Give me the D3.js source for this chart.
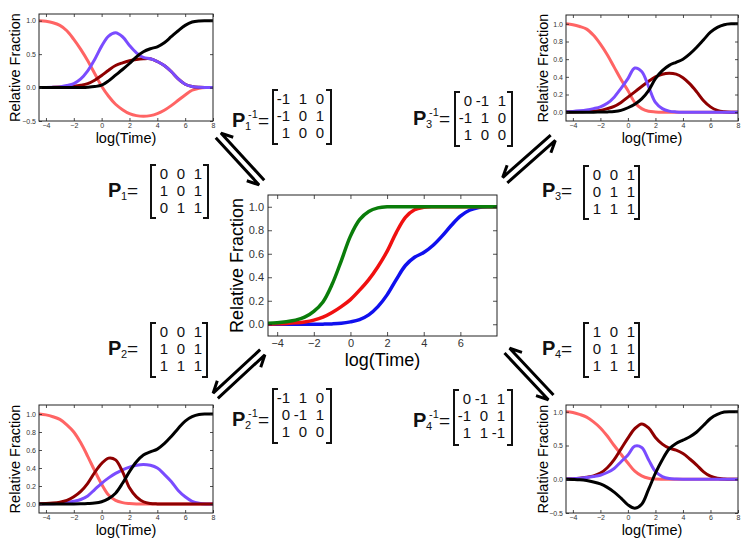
<!DOCTYPE html>
<html><head><meta charset="utf-8">
<script src="https://cdn.jsdelivr.net/npm/d3@7"></script>
<style>
body{margin:0;background:#fff;}
svg{display:block;font-family:"Liberation Sans",Arial,Helvetica,sans-serif;}
</style></head><body>
<svg id="fig" width="747" height="545"></svg>
<script>
// ---------- DATA ----------
const xGrid = [-4.5,-4,-3.5,-3,-2.5,-2,-1.5,-1,-0.5,0,0.5,1,1.5,2,2.5,3,3.5,4,4.5,5,5.5,6,6.5,7,7.5,8];
const xTicksSmall = [-4,-2,0,2,4,6,8];
const xTicksCenter = [-4,-2,0,2,4,6];
const yTicksWide = [-0.5,0,0.5,1.0];
const yTicksUnit = [0,0.2,0.4,0.6,0.8,1.0];

// center panel
const centerGreen = [0.008,0.013,0.022,0.035,0.06,0.11,0.19,0.34,0.54,0.75,0.89,0.96,0.99,1,1,1,1,1,1,1,1,1,1,1,1,1];
const centerRed   = [0.002,0.004,0.007,0.012,0.02,0.035,0.06,0.10,0.15,0.21,0.29,0.38,0.49,0.62,0.78,0.91,0.975,0.995,1,1,1,1,1,1,1,1];
const centerBlue  = [0,0,0,0,0,0,0.001,0.003,0.008,0.02,0.04,0.08,0.15,0.25,0.38,0.50,0.57,0.61,0.67,0.75,0.84,0.92,0.97,0.993,1,1];

// top-left panel (P1)
const tlSalmon = [1.0,0.99,0.97,0.93,0.85,0.72,0.57,0.40,0.21,0.02,-0.13,-0.25,-0.33,-0.39,-0.42,-0.43,-0.42,-0.39,-0.34,-0.27,-0.19,-0.11,-0.04,-0.01,0,0];
const tlDark   = [0,0,0.003,0.007,0.012,0.02,0.035,0.06,0.11,0.18,0.26,0.33,0.37,0.40,0.42,0.43,0.43,0.39,0.33,0.24,0.13,0.05,0.015,0.003,0,0];
const tlPurple = [0,0.002,0.005,0.01,0.03,0.06,0.13,0.25,0.42,0.62,0.77,0.82,0.76,0.63,0.52,0.45,0.43,0.39,0.33,0.24,0.13,0.05,0.015,0.003,0,0];
const tlBlack  = [0,0,0,0,0,0,0.002,0.006,0.015,0.035,0.10,0.185,0.27,0.36,0.46,0.535,0.58,0.61,0.67,0.76,0.85,0.93,0.98,0.997,1,1];

// top-right panel (P3)
const trSalmon = [1.0,0.99,0.97,0.94,0.87,0.77,0.65,0.51,0.37,0.245,0.11,0.04,0.01,0.003,0,0,0,0,0,0,0,0,0,0,0,0];
const trPurple = [0.005,0.008,0.015,0.025,0.04,0.06,0.10,0.17,0.27,0.38,0.50,0.46,0.29,0.11,0.04,0.012,0.003,0,0,0,0,0,0,0,0,0];
const trDark   = [0.001,0.002,0.004,0.008,0.013,0.02,0.04,0.065,0.11,0.17,0.23,0.29,0.35,0.40,0.43,0.44,0.43,0.39,0.32,0.23,0.13,0.06,0.02,0.005,0,0];
const trBlack  = [0,0,0,0,0,0.001,0.003,0.007,0.02,0.05,0.09,0.15,0.245,0.38,0.47,0.53,0.565,0.60,0.66,0.735,0.82,0.905,0.96,0.99,1,1];

// bottom-left panel (P2)
const blSalmon = [1.0,0.99,0.97,0.94,0.88,0.80,0.68,0.53,0.37,0.22,0.10,0.04,0.015,0.005,0,0,0,0,0,0,0,0,0,0,0,0];
const blDark   = [0.003,0.005,0.01,0.02,0.04,0.08,0.14,0.23,0.35,0.45,0.51,0.49,0.36,0.18,0.08,0.025,0.006,0.001,0,0,0,0,0,0,0,0];
const blPurple = [0.001,0.002,0.004,0.008,0.015,0.03,0.05,0.09,0.16,0.23,0.29,0.34,0.38,0.41,0.43,0.44,0.43,0.40,0.33,0.25,0.15,0.08,0.03,0.008,0,0];
const blBlack  = [0,0,0,0,0,0,0.002,0.005,0.01,0.025,0.06,0.12,0.23,0.36,0.47,0.545,0.58,0.61,0.67,0.75,0.84,0.92,0.97,0.995,1,1];

// bottom-right panel (P4)
const brSalmon = [1.0,0.99,0.96,0.92,0.85,0.76,0.64,0.50,0.37,0.24,0.12,0.05,0.015,0.003,0,0,0,0,0,0,0,0,0,0,0,0];
const brPurple = [0.005,0.008,0.015,0.025,0.04,0.06,0.10,0.16,0.26,0.36,0.49,0.47,0.29,0.115,0.04,0.01,0.003,0,0,0,0,0,0,0,0,0];
const brDark   = [0.005,0.008,0.015,0.03,0.05,0.09,0.17,0.29,0.45,0.61,0.75,0.82,0.76,0.62,0.52,0.46,0.43,0.38,0.30,0.21,0.11,0.045,0.015,0.004,0,0];
const brBlack  = [0,-0.003,-0.008,-0.02,-0.04,-0.07,-0.12,-0.19,-0.28,-0.38,-0.43,-0.37,-0.15,0.09,0.29,0.45,0.53,0.58,0.63,0.70,0.80,0.90,0.96,0.995,1,1];

// matrices
const P1 = [[0,0,1],[1,0,1],[0,1,1]];
const P1inv = [[-1,1,0],[-1,0,1],[1,0,0]];
const P2 = [[0,0,1],[1,0,1],[1,1,1]];
const P2inv = [[-1,1,0],[0,-1,1],[1,0,0]];
const P3 = [[0,0,1],[0,1,1],[1,1,1]];
const P3inv = [[0,-1,1],[-1,1,0],[1,0,0]];
const P4 = [[1,0,1],[0,1,1],[1,1,1]];
const P4inv = [[0,-1,1],[-1,0,1],[1,1,-1]];

const C_SALMON = "#ff6464", C_PURPLE = "#7a4cff", C_DARK = "#8e0000", C_BLACK = "#000000";
const C_GREEN = "#0a7d0a", C_RED = "#f01010", C_BLUE = "#1010ee";

// ---------- DRAW ----------
const svg = d3.select("#fig");
const defs = svg.append("defs");

function panel(spec){
  const g = svg.append("g");
  const x = d3.scaleLinear().domain([-4.5,8]).range([spec.l, spec.r]);
  const y = d3.scaleLinear().domain(spec.ydom).range([spec.b, spec.t]);
  const cid = "clip_" + spec.id;
  defs.append("clipPath").attr("id", cid).append("rect")
    .attr("x", spec.l).attr("y", spec.t).attr("width", spec.r - spec.l).attr("height", spec.b - spec.t);
  const line = d3.line().x((d,i)=>x(xGrid[i])).y(d=>y(d)).curve(d3.curveCatmullRom.alpha(0.5));
  spec.series.forEach(s=>{
    g.append("path").datum(s.values).attr("d", line)
      .attr("fill","none").attr("stroke", s.color).attr("stroke-width", spec.lw)
      .attr("stroke-linejoin","round").attr("clip-path", `url(#${cid})`);
  });
  const ts = spec.tick;
  const style = sel => {
    sel.select(".domain").remove();
    sel.selectAll(".tick line").attr("stroke","#222").attr("stroke-width",0.8);
    sel.selectAll(".tick text").attr("fill","#333").attr("font-size", spec.fs)
      .attr("font-family",'"Liberation Sans",Arial,sans-serif');
  };
  g.append("g").attr("transform",`translate(0,${spec.b})`)
    .call(d3.axisBottom(x).tickValues(spec.xticks).tickSizeInner(-ts).tickSizeOuter(0).tickPadding(spec.pad).tickFormat(d3.format("d"))).call(style);
  g.append("g").attr("transform",`translate(0,${spec.t})`)
    .call(d3.axisTop(x).tickValues(spec.xticks).tickSizeInner(-ts).tickSizeOuter(0).tickFormat("")).call(style);
  g.append("g").attr("transform",`translate(${spec.l},0)`)
    .call(d3.axisLeft(y).tickValues(spec.yticks).tickSizeInner(-ts).tickSizeOuter(0).tickPadding(spec.pad+1).tickFormat(d3.format(".1f"))).call(style);
  g.append("g").attr("transform",`translate(${spec.r},0)`)
    .call(d3.axisRight(y).tickValues(spec.yticks).tickSizeInner(-ts).tickSizeOuter(0).tickFormat("")).call(style);
  g.append("rect").attr("x",spec.l).attr("y",spec.t).attr("width",spec.r-spec.l).attr("height",spec.b-spec.t)
    .attr("fill","none").attr("stroke","#222").attr("stroke-width",1);
  // axis titles
  g.append("text").attr("x",(spec.l+spec.r)/2).attr("y",spec.xlabY).attr("text-anchor","middle")
    .attr("font-size",spec.lfs).text("log(Time)");
  g.append("text").attr("transform",`translate(${spec.ylabX},${(spec.t+spec.b)/2}) rotate(-90)`)
    .attr("text-anchor","middle").attr("dominant-baseline","central").attr("font-size",spec.lfs).text("Relative Fraction");
}

const small = {lw:3, tick:3, fs:7, pad:2, lfs:14.5};
panel(Object.assign({id:"tl", l:39, r:213, t:14, b:121, ydom:[-0.5,1.1], xticks:xTicksSmall, yticks:yTicksWide, xlabY:143, ylabX:15,
  series:[{values:tlSalmon,color:C_SALMON},{values:tlDark,color:C_DARK},{values:tlPurple,color:C_PURPLE},{values:tlBlack,color:C_BLACK}]}, small));
panel(Object.assign({id:"tr", l:566, r:738, t:15, b:121, ydom:[-0.1,1.1], xticks:xTicksSmall, yticks:yTicksUnit, xlabY:143, ylabX:543,
  series:[{values:trSalmon,color:C_SALMON},{values:trDark,color:C_DARK},{values:trPurple,color:C_PURPLE},{values:trBlack,color:C_BLACK}]}, small));
panel(Object.assign({id:"bl", l:39, r:213, t:405, b:513, ydom:[-0.1,1.1], xticks:xTicksSmall, yticks:yTicksUnit, xlabY:535, ylabX:15,
  series:[{values:blSalmon,color:C_SALMON},{values:blPurple,color:C_PURPLE},{values:blDark,color:C_DARK},{values:blBlack,color:C_BLACK}]}, small));
panel(Object.assign({id:"br", l:566, r:738, t:405, b:513, ydom:[-0.5,1.1], xticks:xTicksSmall, yticks:yTicksWide, xlabY:535, ylabX:543,
  series:[{values:brSalmon,color:C_SALMON},{values:brDark,color:C_DARK},{values:brPurple,color:C_PURPLE},{values:brBlack,color:C_BLACK}]}, small));
panel({id:"c", l:268, r:497, t:195, b:336, ydom:[-0.1,1.1], xticks:xTicksCenter, yticks:yTicksUnit, xlabY:366, ylabX:237,
  lw:3.5, tick:4, fs:11, pad:3, lfs:18,
  series:[{values:centerBlue,color:C_BLUE},{values:centerRed,color:C_RED},{values:centerGreen,color:C_GREEN}]});

// ---------- matrices ----------
function matrix(M, L, R, T, B){
  const g = svg.append("g");
  const s = 5;
  g.append("path").attr("d",`M${L+s},${T}H${L}V${B}H${L+s}`).attr("fill","none").attr("stroke","#111").attr("stroke-width",2);
  g.append("path").attr("d",`M${R-s},${T}H${R}V${B}H${R-s}`).attr("fill","none").attr("stroke","#111").attr("stroke-width",2);
  const colR = [L+17, L+34, L+51];
  const rowY = [T+14, T+31, T+48];
  M.forEach((row,i)=>row.forEach((v,j)=>{
    g.append("text").attr("x",colR[j]).attr("y",rowY[i]).attr("text-anchor","end")
      .attr("font-size",15).attr("fill","#111").text(String(v));
  }));
}
function label(px, base, sub, inv){
  const g = svg.append("g").attr("fill","#111");
  g.append("text").attr("x",px).attr("y",base).attr("font-size",20).attr("font-weight","bold").text("P");
  g.append("text").attr("x",px+13).attr("y",base+3).attr("font-size",11).text(sub);
  let eqx = px+19;
  if(inv){
    g.append("text").attr("x",px+16).attr("y",base-9).attr("font-size",11).text("-1");
    eqx = px+26;
  }
  g.append("text").attr("x",eqx).attr("y",base).attr("font-size",19).text("=");
}
matrix(P1,151,208,165,218); label(108,197,"1",false);
matrix(P1inv,273,331,90,144); label(232,127,"1",true);
matrix(P3inv,455,512,92,146); label(413,125,"3",true);
matrix(P3,584,639,166,219); label(542,197,"3",false);
matrix(P2,151,207,323,377); label(108,355,"2",false);
matrix(P2inv,273,331,389,443); label(232,426,"2",true);
matrix(P4,584,639,323,377); label(542,355,"4",false);
matrix(P4inv,454,512,390,445); label(413,427,"4",true);

// ---------- harpoons ----------
function harpoons(cx, cy, ux, uy, len, sep){
  const n = Math.hypot(ux,uy); ux/=n; uy/=n;
  const px=-uy, py=ux, h=len/2, o=sep/2, b=13, a=0.5;
  const ca=Math.cos(a)*b, sa=Math.sin(a)*b;
  const tipA=[cx+ux*h+px*o, cy+uy*h+py*o], tailA=[cx-ux*h+px*o, cy-uy*h+py*o];
  const barbA=[tipA[0]-ux*ca+px*sa, tipA[1]-uy*ca+py*sa];
  const tipB=[cx-ux*h-px*o, cy-uy*h-py*o], tailB=[cx+ux*h-px*o, cy+uy*h-py*o];
  const barbB=[tipB[0]+ux*ca-px*sa, tipB[1]+uy*ca-py*sa];
  [[tailA,tipA,barbA],[tailB,tipB,barbB]].forEach(p=>{
    svg.append("path").attr("d",`M${p[0]}L${p[1]}L${p[2]}`).attr("fill","none")
      .attr("stroke","#000").attr("stroke-width",3).attr("stroke-linejoin","miter");
  });
}
harpoons(240,159,-46,-50,64,7);
harpoons(529,159,51,-45,64,7);
harpoons(239,374,-52,48,64,7);
harpoons(529,374,48,51,64,7);
</script></body></html>
